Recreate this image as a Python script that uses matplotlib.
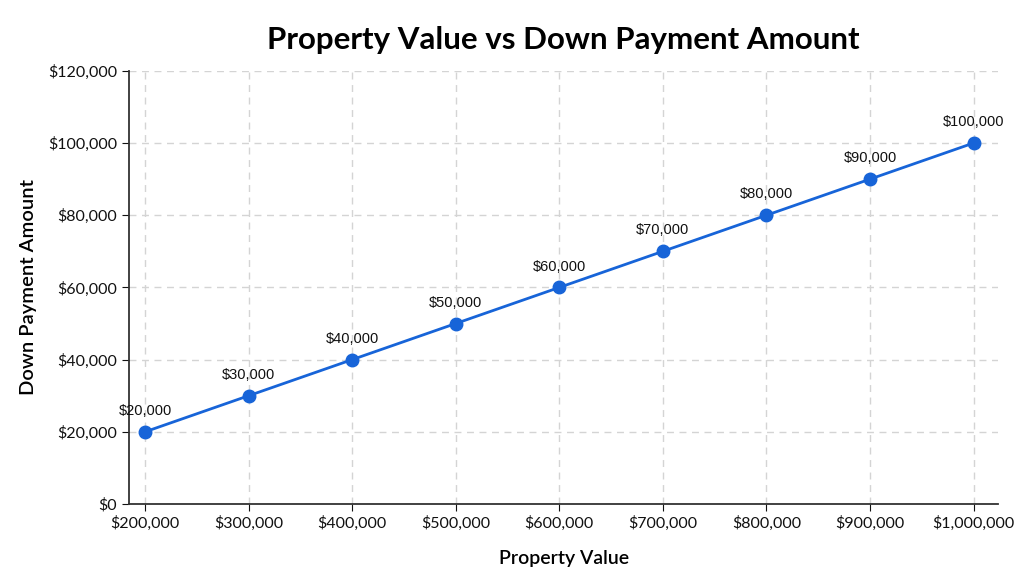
import matplotlib
matplotlib.use('Agg')
import matplotlib.pyplot as plt
from matplotlib.ticker import FuncFormatter

# данные
property_values = [200000, 300000, 400000, 500000, 600000, 700000, 800000, 900000, 1000000]
down_payments = [20000, 30000, 40000, 50000, 60000, 70000, 80000, 90000, 100000]
y_ticks = [0, 20000, 40000, 60000, 80000, 100000, 120000]

plt.rcParams['font.family'] = ['Lato', 'DejaVu Sans']

fig = plt.figure(figsize=(10.24, 5.76), dpi=100)
ax = fig.add_axes([0.126, 0.125, 0.849, 0.752])

color = '#1764d8'
ax.plot(property_values, down_payments, color=color, linewidth=2, marker='o',
        markersize=9, zorder=3)

# подписи точек
for x, y in zip(property_values, down_payments):
    ax.annotate(f'${y:,.0f}', (x, y), xytext=(0, 10), textcoords='offset points',
                ha='center', va='bottom', fontsize=10.5, color='#111111',
                family=['Liberation Sans', 'DejaVu Sans'])

money = FuncFormatter(lambda v, p: f'${v:,.0f}')
ax.xaxis.set_major_formatter(money)
ax.yaxis.set_major_formatter(money)
ax.set_xticks(property_values)
ax.set_yticks(y_ticks)
ax.set_xlim(184500, 1024000)
ax.set_ylim(0, 120000)

ax.grid(True, linestyle=(0, (5, 4)), color='#d4d4d4', linewidth=1)
ax.set_axisbelow(True)
for s in ['top', 'right']:
    ax.spines[s].set_visible(False)
for s in ['left', 'bottom']:
    ax.spines[s].set_color('#333333')
    ax.spines[s].set_linewidth(1.3)
ax.tick_params(labelsize=11.5, colors='#111111', length=5)

ax.set_xlabel('Property Value', fontsize=14, fontweight='semibold', labelpad=14)
ax.set_ylabel('Down Payment Amount', fontsize=14.5, fontweight='semibold', labelpad=8)
ax.set_title('Property Value vs Down Payment Amount', fontsize=22.5, fontweight='bold', pad=16)

fig.savefig('out.png', dpi=100)
